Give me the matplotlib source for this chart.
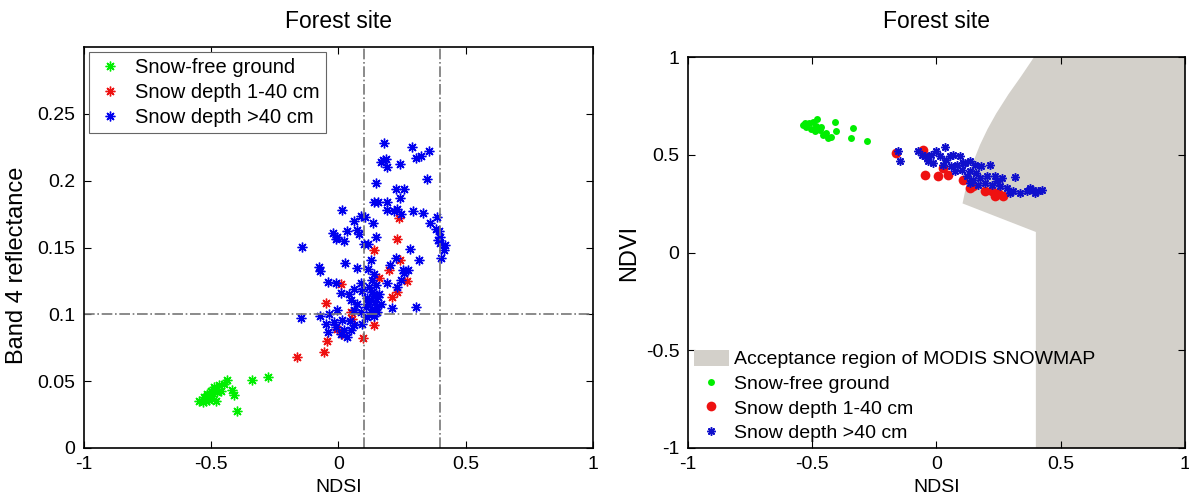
import matplotlib
matplotlib.use("Agg")
import matplotlib.pyplot as plt
from matplotlib.patches import Polygon, Patch
from matplotlib.lines import Line2D

plt.rcParams['font.family'] = ['Liberation Sans', 'DejaVu Sans']

# ---------------- Left panel data (NDSI vs Band 4 reflectance) ----------------
left_green_x = [-0.547, -0.528, -0.515, -0.501, -0.534, -0.489, -0.476, -0.462, -0.439, -0.45,
                -0.482, -0.508, -0.495, -0.417, -0.41, -0.397, -0.338, -0.277, -0.521, -0.469]
left_green_y = [0.035, 0.038, 0.0405, 0.043, 0.0343, 0.0455, 0.042, 0.043, 0.051, 0.048,
                0.0355, 0.036, 0.039, 0.0435, 0.04, 0.028, 0.051, 0.053, 0.0355, 0.0468]

left_red_x = [0.238, 0.229, 0.138, 0.242, 0.199, 0.16, 0.271, 0.009, 0.229, 0.212,
              -0.05, 0.048, 0.138, -0.004, 0.016, 0.097, -0.046, -0.056, -0.161, 0.055]
left_red_y = [0.172, 0.156, 0.148, 0.1405, 0.133, 0.1275, 0.125, 0.1225, 0.1168, 0.113,
              0.1085, 0.1018, 0.092, 0.089, 0.0855, 0.0825, 0.08, 0.072, 0.068, 0.0968]

left_blue_x = [0.18, 0.288, 0.358, 0.326, 0.304, 0.177, 0.186, 0.169, 0.242, 0.193,
               0.347, 0.147, 0.225, 0.258, 0.242, 0.138, 0.157, 0.19, 0.013, 0.193,
               0.219, 0.229, 0.248, 0.294, 0.334, 0.389, 0.088, 0.105, 0.062, 0.136,
               0.36, 0.383, 0.395, 0.4, 0.391, 0.399, 0.418, 0.415, 0.402, -0.021,
               -0.004, -0.008, 0.022, 0.032, 0.072, 0.081, 0.147, 0.101, 0.118, -0.144,
               0.282, 0.315, 0.225, 0.13, 0.025, -0.075, -0.073, 0.075, 0.118, 0.255,
               0.273, 0.258, 0.203, -0.041, -0.01, 0.09, 0.19, 0.245, 0.232, 0.012,
               0.042, 0.062, 0.092, 0.12, 0.131, 0.138, 0.147, 0.14, 0.157, 0.127,
               0.114, 0.166, 0.151, 0.131, 0.153, 0.138, 0.051, 0.075, 0.107, 0.212,
               0.304, -0.004, 0.062, 0.088, 0.111, -0.037, -0.072, -0.148, -0.05, -0.017,
               0.013, 0.046, 0.062, 0.094, -0.01, 0.022, 0.051, -0.041, 0.009, 0.033,
               0.134, 0.144, 0.16, 0.117, 0.127]
left_blue_y = [0.228, 0.2255, 0.222, 0.2185, 0.217, 0.2155, 0.216, 0.214, 0.2125, 0.21,
               0.201, 0.1985, 0.194, 0.1935, 0.187, 0.184, 0.184, 0.184, 0.178, 0.178,
               0.1775, 0.1785, 0.175, 0.1775, 0.1755, 0.173, 0.1735, 0.173, 0.17, 0.168,
               0.1685, 0.1642, 0.162, 0.158, 0.1555, 0.153, 0.152, 0.148, 0.142, 0.161,
               0.158, 0.156, 0.155, 0.1625, 0.163, 0.16, 0.158, 0.1525, 0.1525, 0.1505,
               0.149, 0.141, 0.1425, 0.1405, 0.1385, 0.1355, 0.1325, 0.1348, 0.134, 0.1335,
               0.133, 0.131, 0.1368, 0.124, 0.1235, 0.1235, 0.1235, 0.1255, 0.1205, 0.116,
               0.1155, 0.119, 0.1175, 0.1205, 0.1255, 0.1305, 0.1218, 0.1155, 0.113, 0.1105,
               0.112, 0.108, 0.1055, 0.104, 0.1018, 0.099, 0.1105, 0.108, 0.1055, 0.105,
               0.1055, 0.103, 0.103, 0.1018, 0.098, 0.1005, 0.099, 0.0975, 0.093, 0.094,
               0.0955, 0.095, 0.092, 0.0925, 0.0905, 0.088, 0.0885, 0.087, 0.085, 0.083,
               0.117, 0.109, 0.115, 0.108, 0.1018]

ndsi_thresholds = [0.1, 0.4]
band4_threshold = 0.1

# ---------------- Right panel data (NDSI vs NDVI) ----------------
right_green_x = [-0.538, -0.524, -0.511, -0.497, -0.481, -0.504, -0.487, -0.47, -0.457, -0.437,
                 -0.444, -0.425, -0.41, -0.403, -0.336, -0.343, -0.28, -0.527, -0.464, -0.484]
right_green_y = [0.653, 0.641, 0.661, 0.669, 0.681, 0.631, 0.619, 0.627, 0.602, 0.585,
                 0.61, 0.593, 0.669, 0.619, 0.636, 0.585, 0.568, 0.661, 0.641, 0.647]

right_red_x = [-0.161, -0.054, -0.047, 0.007, 0.047, 0.134, 0.148, 0.195, 0.235, 0.269,
               0.222, 0.027, 0.108, 0.249]
right_red_y = [0.508, 0.525, 0.398, 0.393, 0.398, 0.331, 0.339, 0.314, 0.288, 0.288,
               0.314, 0.432, 0.373, 0.305]

right_blue_x = [-0.155, -0.145, -0.074, -0.06, -0.04, -0.02, 0.0, 0.034, 0.013, 0.04,
                0.067, 0.094, -0.013, 0.027, 0.06, 0.081, 0.114, 0.134, 0.155, 0.181,
                0.215, 0.101, 0.134, 0.161, 0.121, 0.148, 0.175, 0.202, 0.235, 0.262,
                0.316, 0.134, 0.168, 0.195, 0.222, 0.255, 0.282, 0.309, 0.336, 0.363,
                0.39, 0.41, 0.423, 0.396, 0.296, 0.242, 0.074, -0.034, -0.047, 0.108,
                0.054, 0.376]
right_blue_y = [0.517, 0.466, 0.517, 0.5, 0.483, 0.5, 0.517, 0.542, 0.492, 0.475,
                0.5, 0.492, 0.458, 0.449, 0.441, 0.449, 0.458, 0.466, 0.449, 0.441,
                0.449, 0.424, 0.415, 0.407, 0.39, 0.373, 0.381, 0.39, 0.39, 0.381,
                0.386, 0.356, 0.347, 0.356, 0.347, 0.339, 0.331, 0.314, 0.305, 0.314,
                0.322, 0.314, 0.322, 0.305, 0.305, 0.364, 0.415, 0.466, 0.492, 0.458,
                0.492, 0.331]

# Acceptance region boundary (NDSI, NDVI)
region_x = [0.4, 0.4, 0.105, 0.118, 0.132, 0.15, 0.175, 0.205, 0.24, 0.29, 0.34, 0.393, 1.0, 1.0]
region_y = [-1.0, 0.105, 0.251, 0.33, 0.4, 0.47, 0.55, 0.63, 0.71, 0.81, 0.9, 1.0, 1.0, -1.0]

# ---------------- Plot ----------------
fig = plt.figure(figsize=(11.89, 5.0), dpi=100)
ax1 = fig.add_axes([0.0706, 0.104, 0.428, 0.802])
ax2 = fig.add_axes([0.5786, 0.104, 0.418, 0.782])

green = '#00ee00'
red = '#ee1111'
blue = '#0000ee'
fs = 14
fs_leg = 14.5
fs_ylab = 17
fs_title = 16.5
ast = (8, 2, 0)  # MATLAB-like asterisk

ms = 7
ax1.plot(left_green_x, left_green_y, ls='none', marker=ast, color=green, ms=ms, mew=1.0, label='Snow-free ground')
ax1.plot(left_red_x, left_red_y, ls='none', marker=ast, color=red, ms=ms, mew=1.0, label='Snow depth 1-40 cm')
ax1.plot(left_blue_x, left_blue_y, ls='none', marker=ast, color=blue, ms=ms, mew=1.0, label='Snow depth >40 cm')
for xv in ndsi_thresholds:
    ax1.axvline(xv, color='#777777', ls='-.', lw=1.2)
ax1.axhline(band4_threshold, color='#777777', ls='-.', lw=1.2)
ax1.set_xlim(-1, 1)
ax1.set_ylim(0, 0.3)
ax1.set_xticks([-1, -0.5, 0, 0.5, 1])
ax1.set_xticklabels(['-1', '-0.5', '0', '0.5', '1'])
ax1.set_yticks([0, 0.05, 0.1, 0.15, 0.2, 0.25])
ax1.set_yticklabels(['0', '0.05', '0.1', '0.15', '0.2', '0.25'])
ax1.set_xlabel('NDSI', fontsize=fs, labelpad=4)
ax1.set_ylabel('Band 4 reflectance', fontsize=fs_ylab, labelpad=4)
ax1.yaxis.set_label_coords(-0.11, 0.455)
leg1 = ax1.legend(loc='upper left', fontsize=fs_leg, fancybox=False, edgecolor='#666666',
                  handletextpad=0.5, borderpad=0.3, labelspacing=0.3, handlelength=1.5,
                  borderaxespad=0.25, framealpha=1)
leg1.get_frame().set_linewidth(0.8)

poly = Polygon(list(zip(region_x, region_y)), closed=True, facecolor='#d3d0ca', edgecolor='none')
ax2.add_patch(poly)
ax2.plot(right_green_x, right_green_y, 'o', color=green, ms=5, mec='none')
ax2.plot(right_red_x, right_red_y, 'o', color=red, ms=7, mec='none')
ax2.plot(right_blue_x, right_blue_y, ls='none', marker=ast, color='#1010cc', ms=6, mew=1.1)
ax2.set_xlim(-1, 1)
ax2.set_ylim(-1, 1)
ax2.set_xticks([-1, -0.5, 0, 0.5, 1])
ax2.set_xticklabels(['-1', '-0.5', '0', '0.5', '1'])
ax2.set_yticks([-1, -0.5, 0, 0.5, 1])
ax2.set_yticklabels(['-1', '-0.5', '0', '0.5', '1'])
ax2.set_xlabel('NDSI', fontsize=fs, labelpad=4)
ax2.set_ylabel('NDVI', fontsize=fs_ylab, labelpad=4)
handles = [Patch(facecolor='#d3d0ca', edgecolor='none'),
           Line2D([], [], ls='none', marker='o', color=green, ms=5, mec='none'),
           Line2D([], [], ls='none', marker='o', color=red, ms=7, mec='none'),
           Line2D([], [], ls='none', marker=ast, color='#1010cc', ms=6, mew=1.1)]
labels = ['Acceptance region of MODIS SNOWMAP', 'Snow-free ground',
          'Snow depth 1-40 cm', 'Snow depth >40 cm']
ax2.legend(handles, labels, loc='lower left', fontsize=fs, frameon=False,
           handletextpad=0.25, borderpad=0.15, labelspacing=0.3, handlelength=1.8,
           handleheight=0.9, borderaxespad=0.15)

for ax in (ax1, ax2):
    ax.tick_params(direction='in', top=True, right=True, labelsize=fs, length=5, pad=6)
    for s in ax.spines.values():
        s.set_linewidth(1.2)
    bb = ax.get_position()
    fig.text((bb.x0 + bb.x1) / 2, 1 - 22 / 500, 'Forest site', ha='center', va='center', fontsize=fs_title)

fig.savefig('out.png', dpi=100)
